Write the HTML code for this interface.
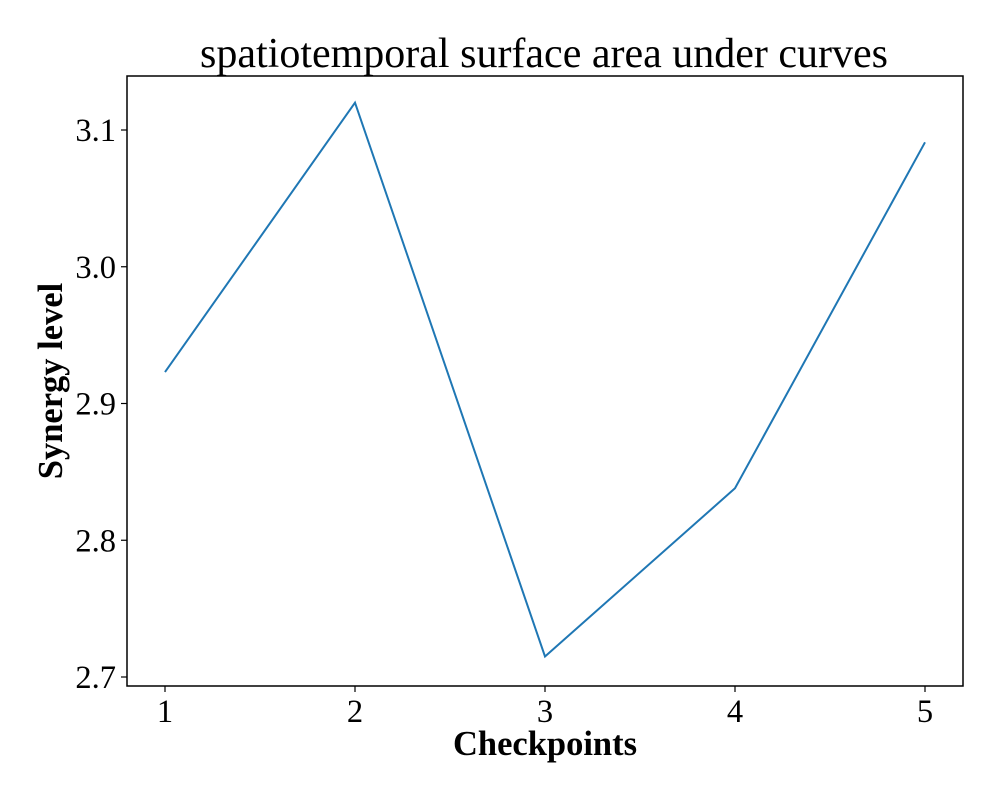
<!DOCTYPE html>
<html><head><meta charset="utf-8"><style>
body{margin:0;background:#fff}
svg text{font-family:"Liberation Serif","DejaVu Serif",serif;fill:#000}
</style></head><body>
<svg id="chart" width="1000" height="800">
<rect x="0" y="0" width="1000" height="800" fill="#fff"/>
<text x="544" y="67" font-size="42" text-anchor="middle">spatiotemporal surface area under curves</text>
<g id="plot"></g>
<rect x="127" y="76" width="836" height="610" fill="none" stroke="#000" stroke-width="1.5"/>
<text x="545" y="755" font-size="34.5" font-weight="bold" text-anchor="middle">Checkpoints</text>
<text transform="translate(62,381) rotate(-90)" font-size="34.5" font-weight="bold" text-anchor="middle">Synergy level</text>
</svg>
<script>
const categories=[1,2,3,4,5];
const values=[2.923,3.120,2.715,2.838,3.091];
const yTicks=[2.7,2.8,2.9,3.0,3.1];
const yTickLabels=["2.7","2.8","2.9","3.0","3.1"];
const NS="http://www.w3.org/2000/svg";
const g=document.getElementById('plot');
function xs(v){return 165+(v-1)*190;}
function ys(v){return 677-(v-2.7)*1367.5;}
function mk(t,a){const e=document.createElementNS(NS,t);for(const k in a)e.setAttribute(k,a[k]);g.appendChild(e);return e;}
categories.forEach(c=>{
  const t=mk('line',{x1:xs(c),x2:xs(c),y1:686,y2:692,stroke:'#000','stroke-width':1.2});
  
  
  const l=mk('text',{x:xs(c),y:722,'font-size':32.5,'text-anchor':'middle'});
  l.textContent=c;
  
  
});
yTicks.forEach((v,i)=>{
  const t=mk('line',{x1:121,x2:127,y1:ys(v),y2:ys(v),stroke:'#000','stroke-width':1.2});
  
  
  const l=mk('text',{x:116,y:ys(v)+11,'font-size':32.5,'text-anchor':'end'});
  l.textContent=yTickLabels[i];
  
  
});
const pts=categories.map((c,i)=>xs(c)+','+ys(values[i])).join(' ');
const line=mk('polyline',{points:pts,fill:'none',stroke:'#1f77b4','stroke-width':2});


</script>
</body></html>
